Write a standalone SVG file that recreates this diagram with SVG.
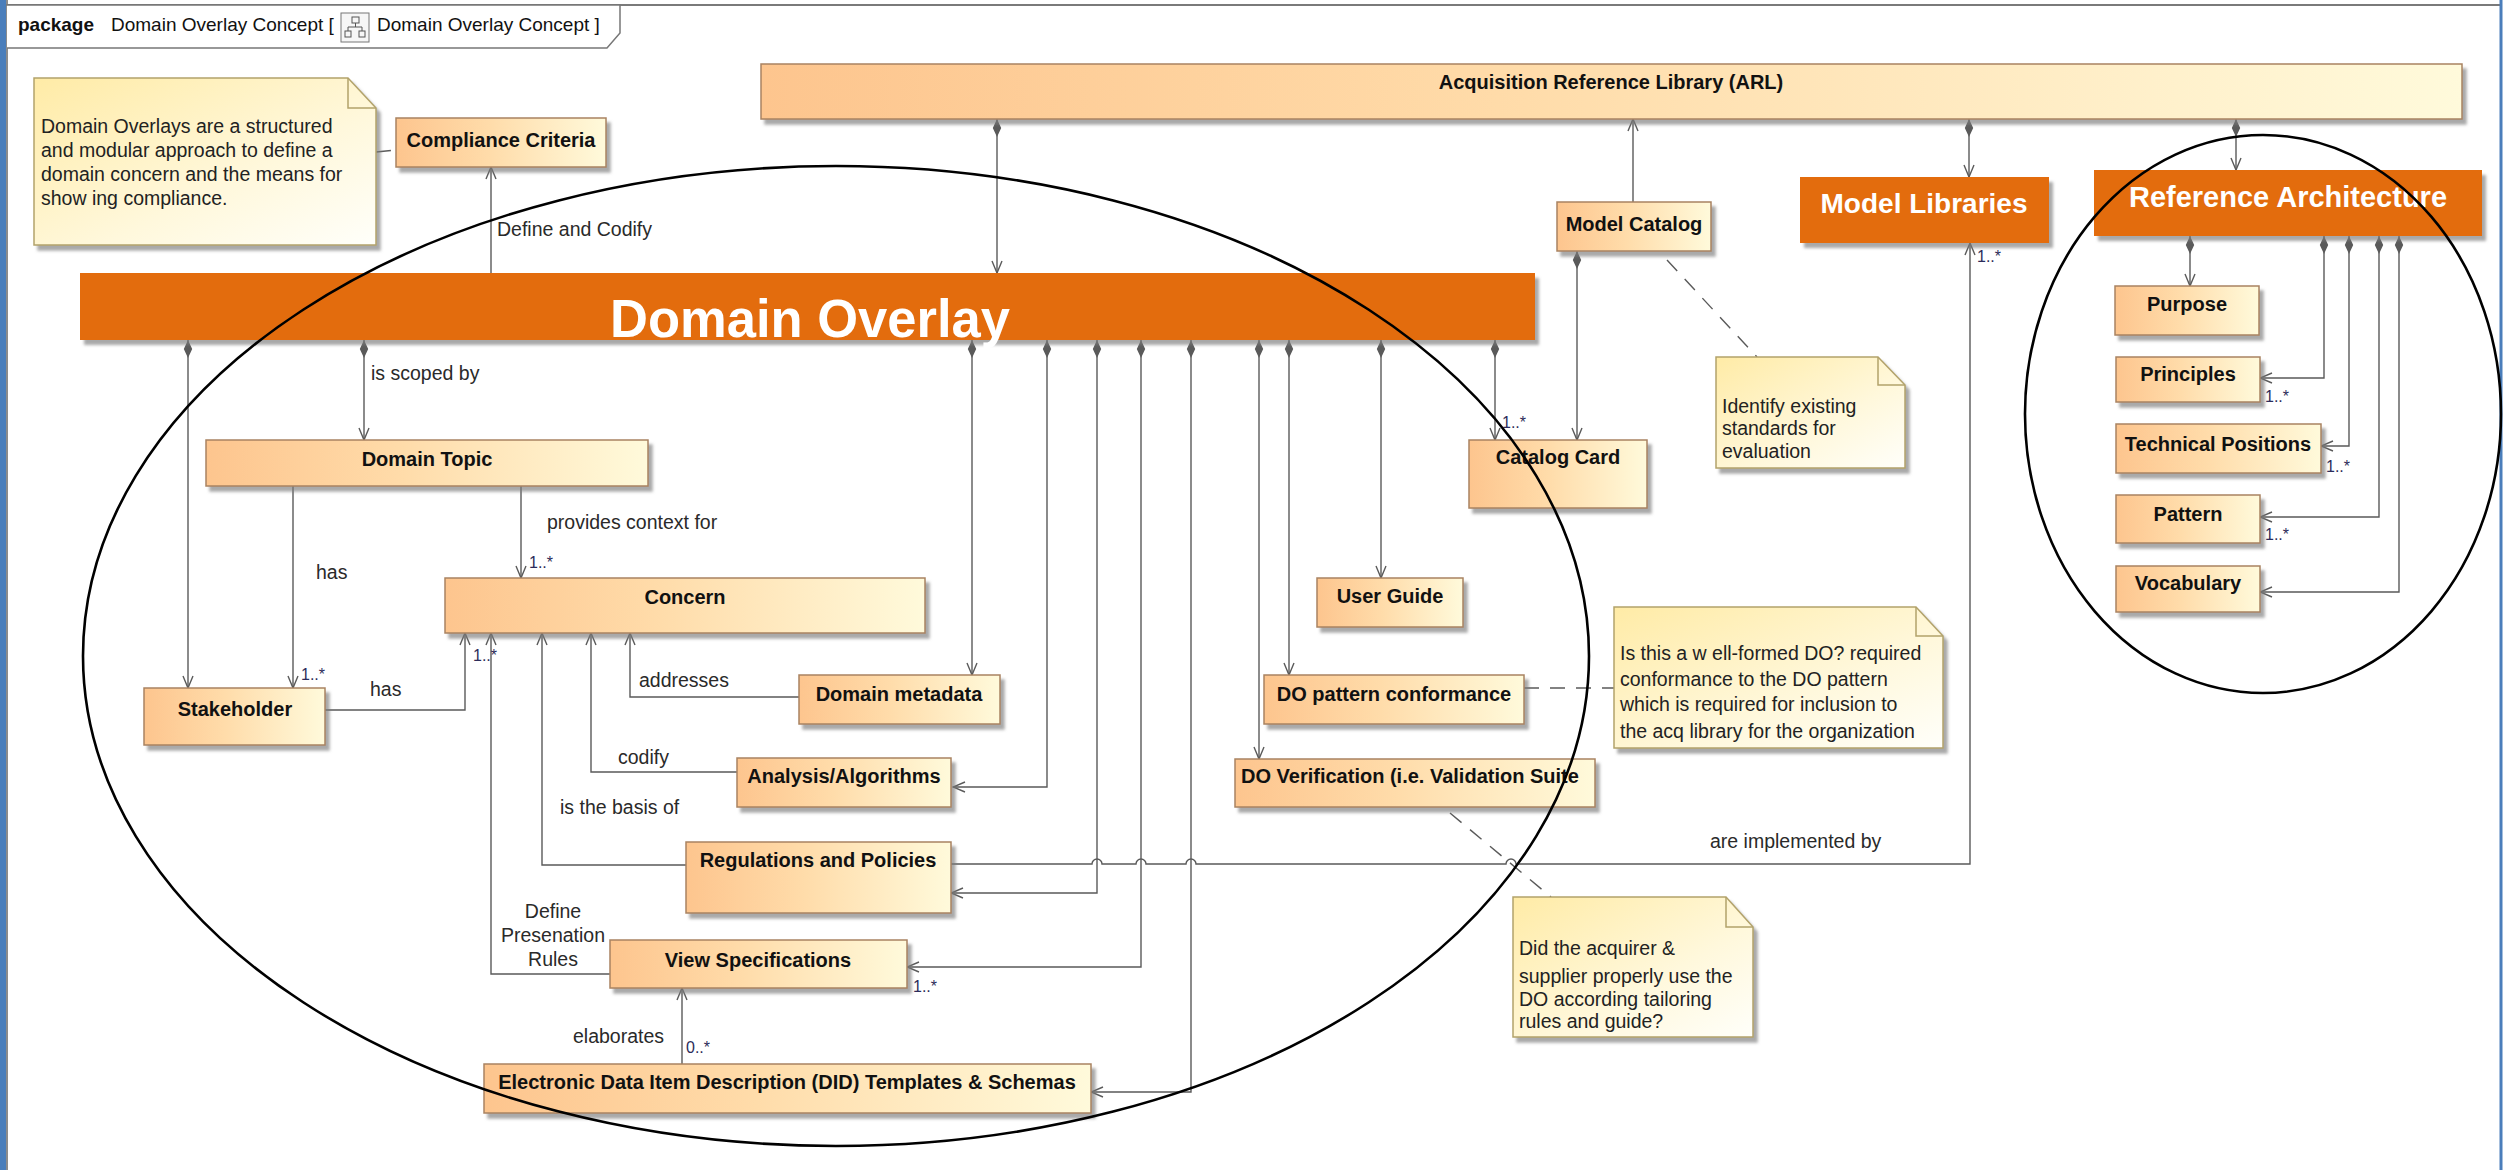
<svg xmlns="http://www.w3.org/2000/svg" width="2503" height="1170" viewBox="0 0 2503 1170">
  <defs>
    <linearGradient id="gBox" x1="0" y1="0" x2="1" y2="0">
      <stop offset="0" stop-color="#fdc58e"/>
      <stop offset="0.45" stop-color="#ffdcaa"/>
      <stop offset="1" stop-color="#fffadb"/>
    </linearGradient>
    <linearGradient id="gNote" x1="0" y1="0" x2="1" y2="1">
      <stop offset="0" stop-color="#ffeba6"/>
      <stop offset="0.6" stop-color="#fff8dc"/>
      <stop offset="1" stop-color="#fffffa"/>
    </linearGradient>
    <filter id="sh" x="-5%" y="-10%" width="115%" height="140%">
      <feDropShadow dx="4" dy="5" stdDeviation="1.5" flood-color="#7a7a7a" flood-opacity="0.65"/>
    </filter>
    <marker id="arr" markerUnits="userSpaceOnUse" markerWidth="14" markerHeight="12" viewBox="0 0 14 12" refX="13" refY="6" orient="auto">
      <path d="M1,1 L13,6 L1,11" fill="none" stroke="#5a5a5a" stroke-width="1.4"/>
    </marker>
    <marker id="dia" markerUnits="userSpaceOnUse" markerWidth="20" markerHeight="10" viewBox="0 0 20 10" refX="1" refY="5" orient="auto">
      <path d="M1,5 L10,0.8 L19,5 L10,9.2 Z" fill="#5a5a5a"/>
    </marker>
    <style>
      .box { fill: url(#gBox); stroke: #a98361; stroke-width: 1.5; filter: url(#sh); }
      .orange { fill: #e36c0a; filter: url(#sh); }
      .note { fill: url(#gNote); stroke: #b3a36b; stroke-width: 1.5; filter: url(#sh); }
      .fold { fill: none; stroke: #b3a36b; stroke-width: 1.5; }
      .nm { font-family: "Liberation Sans", Arial, sans-serif; font-weight: bold; font-size: 20px; fill: #111; text-anchor: middle; }
      .nm.left { text-anchor: start; }
      .big { font-family: "Liberation Sans", Arial, sans-serif; font-weight: bold; fill: #fff; text-anchor: middle; }
      .lbl { font-family: "Liberation Sans", Arial, sans-serif; font-size: 19.5px; fill: #2a2a2a; }
      .lbl.mid { text-anchor: middle; }
      .mul { font-family: "Liberation Sans", Arial, sans-serif; font-size: 16px; fill: #2c2c5a; }
      .nt { font-family: "Liberation Sans", Arial, sans-serif; font-size: 19.5px; fill: #222; }
      .con path { fill: none; stroke: #5a5a5a; stroke-width: 1.4; }
      .con path.c { marker-start: url(#dia); marker-end: url(#arr); }
      .con path.a { marker-end: url(#arr); }
      .con path.d { stroke-dasharray: 15 11; }
      .ring { fill: none; stroke: #000; stroke-width: 2.6; }
    </style>
  </defs>

  <rect width="2503" height="1170" fill="#fff"/>

  <!-- diagram frame -->
  <g id="frame">
    <rect x="0" y="0" width="6" height="1170" fill="#4a7ebb"/>
    <line x1="7" y1="0" x2="7" y2="1170" stroke="#666" stroke-width="1.5"/>
    <line x1="6" y1="5" x2="2500" y2="5" stroke="#7a7a7a" stroke-width="2"/>
    <line x1="2501" y1="0" x2="2501" y2="1170" stroke="#4a7ebb" stroke-width="3"/>
    <path d="M7,5 H620 V33 L607,48 H7" fill="#fff" stroke="#777" stroke-width="1.5"/>
    <text x="18" y="31" font-family="Liberation Sans, Arial, sans-serif" font-size="19" font-weight="bold" fill="#111">package</text>
    <text x="111" y="31" font-family="Liberation Sans, Arial, sans-serif" font-size="19" fill="#111">Domain Overlay Concept [</text>
    <rect x="341" y="13" width="28" height="29" fill="#f6f6f6" stroke="#777" stroke-width="1"/>
    <rect x="352" y="17" width="7" height="6" fill="none" stroke="#555" stroke-width="1"/>
    <path d="M355.5,23 V27 M348,27 H362 M348,27 V31 M362,27 V31" fill="none" stroke="#555" stroke-width="1"/>
    <rect x="345" y="31" width="6" height="6" fill="none" stroke="#555" stroke-width="1"/>
    <rect x="359" y="31" width="6" height="6" fill="none" stroke="#555" stroke-width="1"/>
    <text x="377" y="31" font-family="Liberation Sans, Arial, sans-serif" font-size="19" fill="#111">Domain Overlay Concept ]</text>
  </g>

  <!-- connectors -->
  <g id="connectors" class="con">
    <!-- Domain Overlay compositions -->
    <path class="c" d="M188,340 V688"/>
    <path class="c" d="M364,340 V440"/>
    <path class="c" d="M972,340 V675"/>
    <path class="c" d="M1047,340 V787 H953"/>
    <path class="c" d="M1097,340 V893 H951"/>
    <path class="c" d="M1141,340 V967 H907"/>
    <path class="c" d="M1191,340 V1092 H1091"/>
    <path class="c" d="M1259,340 V759"/>
    <path class="c" d="M1289,340 V675"/>
    <path class="c" d="M1381,340 V578"/>
    <path class="c" d="M1495,340 V440"/>
    <path class="a" d="M491,273 V167"/>
    <!-- ARL compositions -->
    <path class="c" d="M997,119 V273"/>
    <path class="c" d="M1969,119 V177"/>
    <path class="c" d="M2236,119 V170"/>
    <path class="a" d="M1633,202 V119"/>
    <path class="c" d="M1577,251 V440"/>
    <!-- Reference Architecture compositions -->
    <path class="c" d="M2190,236 V286"/>
    <path class="c" d="M2324,236 V378 H2260"/>
    <path class="c" d="M2349,236 V446 H2321"/>
    <path class="c" d="M2379,236 V517 H2260"/>
    <path class="c" d="M2399,236 V592 H2260"/>
    <!-- associations -->
    <path class="a" d="M293,486 V688"/>
    <path class="a" d="M521,486 V578"/>
    <path class="a" d="M325,710 H465 V633"/>
    <path class="a" d="M610,974 H491 V633"/>
    <path class="a" d="M686,865 H542 V633"/>
    <path class="a" d="M737,772 H591 V633"/>
    <path class="a" d="M799,697 H630 V633"/>
    <path class="a" d="M682,1064 V988"/>
    <path class="a" d="M951,864 H1092 A5,5 0 0 1 1102,864 H1136 A5,5 0 0 1 1146,864 H1186 A5,5 0 0 1 1196,864 H1506 A5,5 0 0 1 1516,864 H1970 V243"/>
    <!-- note anchors -->
    <path class="d" d="M376,152 L396,150"/>
    <path class="d" d="M1667,260 L1757,357"/>
    <path class="d" d="M1524,688 H1614"/>
    <path class="d" d="M1450,813 L1551,897"/>

    <!-- connector labels -->
    <text class="lbl" x="497" y="236">Define and Codify</text>
    <text class="lbl" x="371" y="380">is scoped by</text>
    <text class="lbl" x="316" y="579">has</text>
    <text class="lbl" x="547" y="529">provides context for</text>
    <text class="mul" x="529" y="568">1..*</text>
    <text class="mul" x="301" y="680">1..*</text>
    <text class="lbl" x="370" y="696">has</text>
    <text class="mul" x="473" y="661">1..*</text>
    <text class="lbl" x="639" y="687">addresses</text>
    <text class="lbl" x="618" y="764">codify</text>
    <text class="lbl" x="560" y="814">is the basis of</text>
    <text class="lbl mid" x="553" y="918">Define</text>
    <text class="lbl mid" x="553" y="942">Presenation</text>
    <text class="lbl mid" x="553" y="966">Rules</text>
    <text class="lbl" x="573" y="1043">elaborates</text>
    <text class="mul" x="686" y="1053">0..*</text>
    <text class="mul" x="913" y="992">1..*</text>
    <text class="lbl" x="1710" y="848">are implemented by</text>
    <text class="mul" x="1502" y="428">1..*</text>
    <text class="mul" x="1977" y="262">1..*</text>
    <text class="mul" x="2265" y="402">1..*</text>
    <text class="mul" x="2326" y="472">1..*</text>
    <text class="mul" x="2265" y="540">1..*</text>
  </g>

  <!-- notes -->
  <g id="note-overview">
    <path class="note" d="M34,78 H348 L376,108 V245 H34 Z"/>
    <path class="fold" d="M348,78 V108 H376"/>
    <text class="nt" x="41" y="133">Domain Overlays are a structured</text>
    <text class="nt" x="41" y="157">and modular approach to define a</text>
    <text class="nt" x="41" y="181">domain concern and  the means for</text>
    <text class="nt" x="41" y="205">show ing compliance.</text>
  </g>
  <g id="note-standards">
    <path class="note" d="M1716,357 H1878 L1905,385 V468 H1716 Z"/>
    <path class="fold" d="M1878,357 V385 H1905"/>
    <text class="nt" x="1722" y="413">Identify existing</text>
    <text class="nt" x="1722" y="435">standards for</text>
    <text class="nt" x="1722" y="458">evaluation</text>
  </g>
  <g id="note-conformance">
    <path class="note" d="M1614,607 H1916 L1943,636 V748 H1614 Z"/>
    <path class="fold" d="M1916,607 V636 H1943"/>
    <text class="nt" x="1620" y="660">Is this a w ell-formed DO? required</text>
    <text class="nt" x="1620" y="686">conformance to the DO pattern</text>
    <text class="nt" x="1620" y="711">which is required for inclusion to</text>
    <text class="nt" x="1620" y="738">the acq library for the organization</text>
  </g>
  <g id="note-verification">
    <path class="note" d="M1513,897 H1726 L1753,927 V1037 H1513 Z"/>
    <path class="fold" d="M1726,897 V927 H1753"/>
    <text class="nt" x="1519" y="955">Did the acquirer &amp;</text>
    <text class="nt" x="1519" y="983">supplier properly use the</text>
    <text class="nt" x="1519" y="1006">DO according tailoring</text>
    <text class="nt" x="1519" y="1028">rules and guide?</text>
  </g>

  <!-- classes -->
  <g id="arl"><rect class="box" x="761" y="64" width="1701" height="55"/><text class="nm" x="1611" y="89">Acquisition Reference Library (ARL)</text></g>
  <g id="compliance-criteria"><rect class="box" x="396" y="118" width="210" height="49"/><text class="nm" x="501" y="147">Compliance Criteria</text></g>
  <g id="domain-overlay"><rect class="orange" x="80" y="273" width="1455" height="67"/><text class="big" x="810" y="337" font-size="54" textLength="400" lengthAdjust="spacingAndGlyphs">Domain Overlay</text></g>
  <g id="model-catalog"><rect class="box" x="1557" y="202" width="154" height="49"/><text class="nm" x="1634" y="231">Model Catalog</text></g>
  <g id="model-libraries"><rect class="orange" x="1800" y="177" width="249" height="66"/><text class="big" x="1924" y="213" font-size="28">Model Libraries</text></g>
  <g id="reference-architecture"><rect class="orange" x="2094" y="170" width="388" height="66"/><text class="big" x="2288" y="207" font-size="29">Reference Architecture</text></g>
  <g id="domain-topic"><rect class="box" x="206" y="440" width="442" height="46"/><text class="nm" x="427" y="466">Domain Topic</text></g>
  <g id="concern"><rect class="box" x="445" y="578" width="480" height="55"/><text class="nm" x="685" y="604">Concern</text></g>
  <g id="stakeholder"><rect class="box" x="144" y="688" width="181" height="57"/><text class="nm" x="235" y="716">Stakeholder</text></g>
  <g id="domain-metadata"><rect class="box" x="799" y="675" width="201" height="49"/><text class="nm" x="899" y="701">Domain metadata</text></g>
  <g id="analysis-algorithms"><rect class="box" x="737" y="758" width="214" height="49"/><text class="nm" x="844" y="783">Analysis/Algorithms</text></g>
  <g id="regulations-policies"><rect class="box" x="686" y="842" width="265" height="71"/><text class="nm" x="818" y="867">Regulations and Policies</text></g>
  <g id="view-specifications"><rect class="box" x="610" y="940" width="297" height="48"/><text class="nm" x="758" y="967">View Specifications</text></g>
  <g id="did-templates"><rect class="box" x="484" y="1064" width="607" height="49"/><text class="nm" x="787" y="1089">Electronic Data Item Description (DID) Templates &amp; Schemas</text></g>
  <g id="user-guide"><rect class="box" x="1317" y="578" width="146" height="49"/><text class="nm" x="1390" y="603">User Guide</text></g>
  <g id="do-pattern-conformance"><rect class="box" x="1264" y="675" width="260" height="49"/><text class="nm" x="1394" y="701">DO pattern conformance</text></g>
  <g id="do-verification"><rect class="box" x="1235" y="759" width="360" height="48"/><text class="nm left" x="1241" y="783">DO Verification (i.e. Validation Suite</text></g>
  <g id="catalog-card"><rect class="box" x="1469" y="440" width="178" height="68"/><text class="nm" x="1558" y="464">Catalog Card</text></g>
  <g id="purpose"><rect class="box" x="2115" y="286" width="144" height="49"/><text class="nm" x="2187" y="311">Purpose</text></g>
  <g id="principles"><rect class="box" x="2116" y="357" width="144" height="45"/><text class="nm" x="2188" y="381">Principles</text></g>
  <g id="technical-positions"><rect class="box" x="2116" y="424" width="205" height="49"/><text class="nm" x="2218" y="451">Technical Positions</text></g>
  <g id="pattern"><rect class="box" x="2116" y="495" width="144" height="48"/><text class="nm" x="2188" y="521">Pattern</text></g>
  <g id="vocabulary"><rect class="box" x="2116" y="566" width="144" height="46"/><text class="nm" x="2188" y="590">Vocabulary</text></g>

  <!-- hand-drawn groupings -->
  <g id="groupings">
    <ellipse class="ring" cx="836" cy="656" rx="753" ry="490"/>
    <ellipse class="ring" cx="2263" cy="414" rx="238" ry="279"/>
  </g>
</svg>
